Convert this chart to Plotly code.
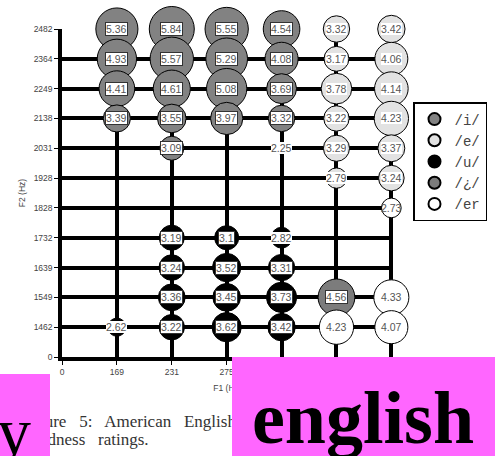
import plotly.graph_objects as go
import numpy as np

# category axes (F1 columns, F2 rows)
f1_cats = ["0", "169", "231", "275", "319", "363", "407"]
f2_cats = ["0", "1462", "1549", "1639", "1732", "1828", "1928", "2031", "2138", "2249", "2364", "2482"]

# /i/
i_f1 = ["169", "169", "169", "169", "231", "231", "231", "231", "231",
        "275", "275", "275", "275", "319", "319", "319", "319", "319"]
i_f2 = ["2482", "2364", "2249", "2138", "2482", "2364", "2249", "2138", "2031",
        "2482", "2364", "2249", "2138", "2482", "2364", "2249", "2138", "2031"]
i_val = [5.36, 4.93, 4.41, 3.39, 5.84, 5.57, 4.61, 3.55, 3.09,
         5.55, 5.29, 5.08, 3.97, 4.54, 4.08, 3.69, 3.32, 2.25]

# /e/
e_f1 = ["363", "363", "363", "363", "363", "363", "407", "407", "407", "407", "407", "407"]
e_f2 = ["2482", "2364", "2249", "2138", "2031", "1928", "2482", "2364", "2249", "2138", "2031", "1928"]
e_val = [3.32, 3.17, 3.78, 3.22, 3.29, 2.79, 3.42, 4.06, 4.14, 4.23, 3.37, 3.24]

# /u/
u_f1 = ["169", "231", "231", "231", "231", "275", "275", "275", "275", "319", "319", "319", "319"]
u_f2 = ["1462", "1732", "1639", "1549", "1462", "1732", "1639", "1549", "1462", "1732", "1639", "1549", "1462"]
u_val = [2.62, 3.19, 3.24, 3.36, 3.22, 3.1, 3.52, 3.45, 3.62, 2.82, 3.31, 3.73, 3.42]

# /¿/
eh_f1 = ["363"]
eh_f2 = ["1549"]
eh_val = [4.56]

# /er/
er_f1 = ["363", "407", "407", "407"]
er_f2 = ["1462", "1828", "1549", "1462"]
er_val = [4.23, 2.73, 4.33, 4.07]

W, H = 495, 456
L, R, T, B = 62, 102, 29, 99
PW, PH = W - L - R, H - T - B


def px(x):
    return (x - L) / PW


def py(y):
    return (H - B - y) / PH


groups = [
    ("/i/", i_f1, i_f2, i_val, "#828282", True),
    ("/e/", e_f1, e_f2, e_val, "#e2e2e2", False),
    ("/u/", u_f1, u_f2, u_val, "#000000", True),
    ("/¿/", eh_f1, eh_f2, eh_val, "#7c7c7c", True),
    ("/er", er_f1, er_f2, er_val, "#ffffff", False),
]

fig = go.Figure()
annotations = []
for name, xs, ys, vals, col, boxed in groups:
    v = np.array(vals)
    sizes = np.sqrt(528 * np.clip(v - 2.0, 0, None))
    fig.add_trace(go.Scatter(
        x=xs, y=ys, mode="markers", name=name, cliponaxis=False,
        marker=dict(size=sizes, color=col, opacity=1,
                    line=dict(color="black", width=1)),
        hoverinfo="skip"))
    for x, y, val in zip(xs, ys, vals):
        border = boxed and val >= 3
        annotations.append(dict(
            x=f1_cats.index(x), y=f2_cats.index(y), xref="x", yref="y",
            text=f"{val:g}", showarrow=False,
            font=dict(family="Liberation Sans", size=10.5, color="#555555"),
            bgcolor="white" if (col != "#ffffff") else "rgba(0,0,0,0)",
            bordercolor="#333333" if border else "rgba(0,0,0,0)",
            borderwidth=1 if border else 0, borderpad=0))

# caption (partly hidden)
cap_font = dict(family="Liberation Serif", size=17, color="#333333")
sp = "\u00a0\u00a0 "
annotations.append(dict(
    x=px(20), y=py(421), xref="paper", yref="paper", xanchor="left", yanchor="middle",
    text="Figure" + sp + "5:" + sp + "American" + sp + "English" + sp + "vowel",
    showarrow=False, font=cap_font))
annotations.append(dict(
    x=px(20), y=py(440), xref="paper", yref="paper", xanchor="left", yanchor="middle",
    text="goodness" + sp + "ratings.", showarrow=False, font=cap_font))

# magenta overlays
annotations.append(dict(
    x=px(0), y=py(374), xref="paper", yref="paper", xanchor="left", yanchor="top",
    text=" ", width=50, height=90, bgcolor="#ff66ff", borderwidth=0, borderpad=0,
    showarrow=False))
annotations.append(dict(
    x=px(-3), y=py(432), xref="paper", yref="paper", xanchor="left", yanchor="middle",
    text="y", showarrow=False, borderwidth=0, borderpad=0,
    font=dict(family="Liberation Serif", size=68, color="black")))
annotations.append(dict(
    x=px(232), y=py(357), xref="paper", yref="paper", xanchor="left", yanchor="top",
    text=" ", width=263, height=110, bgcolor="#ff66ff",
    borderwidth=0, borderpad=0, showarrow=False))
annotations.append(dict(
    x=px(362.5), y=py(418), xref="paper", yref="paper", xanchor="center", yanchor="middle",
    text="<b>english</b>", showarrow=False, borderwidth=0, borderpad=0,
    font=dict(family="Liberation Serif", size=74, color="black")))

tick_font = dict(family="Liberation Sans", size=8.5, color="#444444")
fig.update_layout(
    width=W, height=H,
    margin=dict(l=L, r=R, t=T, b=B),
    paper_bgcolor="white", plot_bgcolor="white",
    showlegend=True,
    legend=dict(xref="container", yref="container",
                x=413 / W, y=1 - 102 / H, xanchor="left", yanchor="top",
                bgcolor="white", bordercolor="black", borderwidth=1.5,
                itemsizing="constant", tracegroupgap=0,
                font=dict(family="Liberation Mono", size=14, color="#444444")),
    annotations=annotations,
    xaxis=dict(type="category", categoryorder="array", categoryarray=f1_cats,
               range=[0, 6.03], showgrid=True, gridcolor="black", gridwidth=3.5,
               showline=True, linecolor="black", linewidth=4,
               zeroline=False, ticks="outside", ticklen=4, tickcolor="black",
               tickfont=tick_font,
               title=dict(text="F1 (Hz)", font=tick_font, standoff=10)),
    yaxis=dict(type="category", categoryorder="array", categoryarray=f2_cats,
               range=[0, 11], showgrid=True, gridcolor="black", gridwidth=3.5,
               showline=True, linecolor="black", linewidth=3.5,
               zeroline=False, ticks="outside", ticklen=4, tickcolor="black",
               tickfont=tick_font,
               title=dict(text="F2 (Hz)", font=tick_font, standoff=8)),
)

fig.write_html("out.html", config={"displayModeBar": False},
               post_script="document.body.style.margin='0';")
